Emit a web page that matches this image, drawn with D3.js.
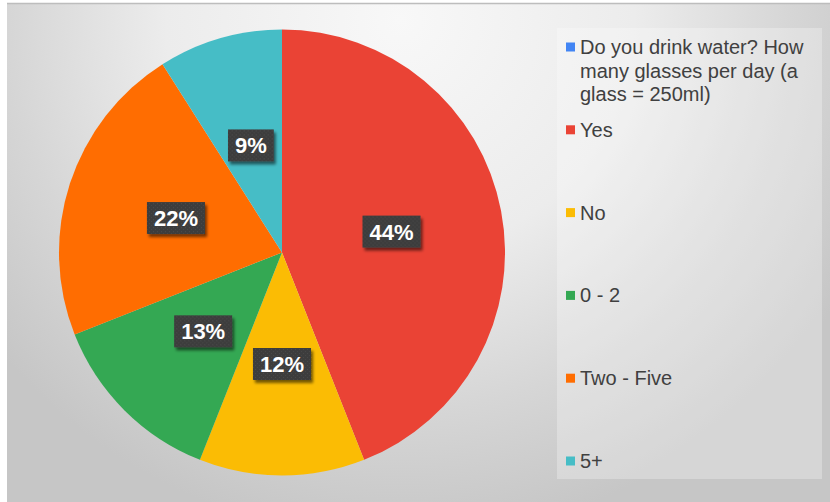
<!DOCTYPE html>
<html>
<head>
<meta charset="utf-8">
<script src="https://cdn.jsdelivr.net/npm/d3@7"></script>
<style>
  html, body { margin: 0; padding: 0; background: #ffffff; }
  svg { display: block; font-family: "Liberation Sans", Arial, sans-serif; }
</style>
</head>
<body>
<svg id="chart" width="830" height="502"></svg>
<script>
// Survey answers, share of respondents (%)
const categories = ["Yes", "No", "0 - 2", "Two - Five", "5+"];
const values = [44, 12, 13, 22, 9];
const sliceColors = ["#EA4335", "#FBBC04", "#34A853", "#FF6D01", "#46BDC6"];

// Legend also lists the question header as its own (empty) entry
const questionLabel = "Do you drink water? How many glasses per day (a glass = 250ml)";
const questionColor = "#4285F4";

const W = 830, H = 502;
const svg = d3.select("#chart");
const defs = svg.append("defs");

// chart-area background: soft radial gradient, light at the top middle
const bg = defs.append("radialGradient")
  .attr("id", "bgGrad")
  .attr("gradientUnits", "userSpaceOnUse")
  .attr("cx", 400).attr("cy", 20).attr("r", 520);
bg.append("stop").attr("offset", "0").attr("stop-color", "#f8f8f8");
bg.append("stop").attr("offset", "0.45").attr("stop-color", "#ececec");
bg.append("stop").attr("offset", "0.75").attr("stop-color", "#d6d6d6");
bg.append("stop").attr("offset", "1").attr("stop-color", "#c6c6c6");

// drop shadow for data-label boxes
const sh = defs.append("filter").attr("id", "labelShadow")
  .attr("x", "-20%").attr("y", "-20%").attr("width", "150%").attr("height", "160%");
sh.append("feGaussianBlur").attr("in", "SourceAlpha").attr("stdDeviation", 1.6).attr("result", "b");
sh.append("feOffset").attr("in", "b").attr("dx", 2).attr("dy", 2.5).attr("result", "o");
sh.append("feComponentTransfer").attr("in", "o").attr("result", "s")
  .append("feFuncA").attr("type", "linear").attr("slope", 0.55);
const m = sh.append("feMerge");
m.append("feMergeNode").attr("in", "s");
m.append("feMergeNode").attr("in", "SourceGraphic");

// faint dotted texture for the label boxes
const pat = defs.append("pattern").attr("id", "dots")
  .attr("patternUnits", "userSpaceOnUse").attr("width", 4).attr("height", 4);
pat.append("rect").attr("width", 4).attr("height", 4).attr("fill", "#3e3e3e");
pat.append("rect").attr("x", 1).attr("y", 1).attr("width", 1).attr("height", 1).attr("fill", "#4a4a4a");
pat.append("rect").attr("x", 3).attr("y", 3).attr("width", 1).attr("height", 1).attr("fill", "#474747");

// background area
svg.append("rect").attr("x", 7).attr("y", 3).attr("width", W - 7).attr("height", H - 3)
  .attr("fill", "url(#bgGrad)");
svg.append("line").attr("x1", 7).attr("x2", W).attr("y1", 3.5).attr("y2", 3.5)
  .attr("stroke", "#bdbdbd").attr("stroke-width", 1.5);

// ---- pie ----
const cx = 282, cy = 252.5, R = 223;
const color = d3.scaleOrdinal().domain(categories).range(sliceColors);
const pie = d3.pie().sort(null).value(d => d.value);
const data = categories.map((c, i) => ({ category: c, value: values[i] }));
const arcs = pie(data);
const arc = d3.arc().innerRadius(0).outerRadius(R);

const g = svg.append("g").attr("transform", `translate(${cx},${cy})`);
g.selectAll("path.slice").data(arcs).join("path")
  .attr("class", "slice")
  .attr("d", arc)
  .attr("fill", d => color(d.data.category));

// percentage labels in dark boxes
const total = d3.sum(values);
const fmt = v => Math.round(v / total * 100) + "%";
const lab = g.selectAll("g.lbl").data(arcs).join("g")
  .attr("class", "lbl")
  .attr("transform", d => { const [x, y] = arc.centroid(d); return `translate(${x},${y})`; });

lab.append("text")
  .attr("text-anchor", "middle")
  .attr("dy", "0.36em")
  .attr("font-size", 22)
  .attr("font-weight", "bold")
  .attr("fill", "#ffffff")
  .text(d => fmt(d.data.value))
  .each(function () {
    const bb = this.getBBox();
    const padX = 7, h = 32;
    d3.select(this.parentNode).insert("rect", "text")
      .attr("x", bb.x - padX).attr("y", -h / 2)
      .attr("width", bb.width + 2 * padX).attr("height", h)
      .attr("fill", "url(#dots)")
      .attr("filter", "url(#labelShadow)");
  });

// ---- legend ----
const legendItems = [{ label: questionLabel, color: questionColor }]
  .concat(categories.map((c, i) => ({ label: c, color: sliceColors[i] })));

svg.append("rect").attr("x", 557).attr("y", 28).attr("width", 265).attr("height", 451)
  .attr("fill", "#ffffff").attr("fill-opacity", 0.28);

const legendY = d3.scaleLinear().domain([0, legendItems.length - 1]).range([47, 461]);
const swX = 566, sw = 9, txX = 580, maxW = 235, lineH = 23.5;

const li = svg.selectAll("g.leg").data(legendItems).join("g")
  .attr("class", "leg")
  .attr("transform", (d, i) => `translate(0,${legendY(i)})`);

li.append("rect")
  .attr("x", swX).attr("y", -sw / 2)
  .attr("width", sw).attr("height", sw)
  .attr("fill", d => d.color);

li.append("text")
  .attr("x", txX)
  .attr("font-size", 20)
  .attr("fill", "#404040")
  .each(function (d) {
    // wrap long labels onto several lines
    const t = d3.select(this);
    const words = d.label.split(" ");
    let line = [], lineNo = 0;
    let tspan = t.append("tspan").attr("x", txX).attr("y", 0).attr("dy", "0.35em");
    words.forEach(w => {
      line.push(w);
      tspan.text(line.join(" "));
      if (tspan.node().getComputedTextLength() > maxW && line.length > 1) {
        line.pop();
        tspan.text(line.join(" "));
        line = [w];
        lineNo++;
        tspan = t.append("tspan").attr("x", txX).attr("y", lineNo * lineH).attr("dy", "0.35em").text(w);
      }
    });
  });
</script>
</body>
</html>
